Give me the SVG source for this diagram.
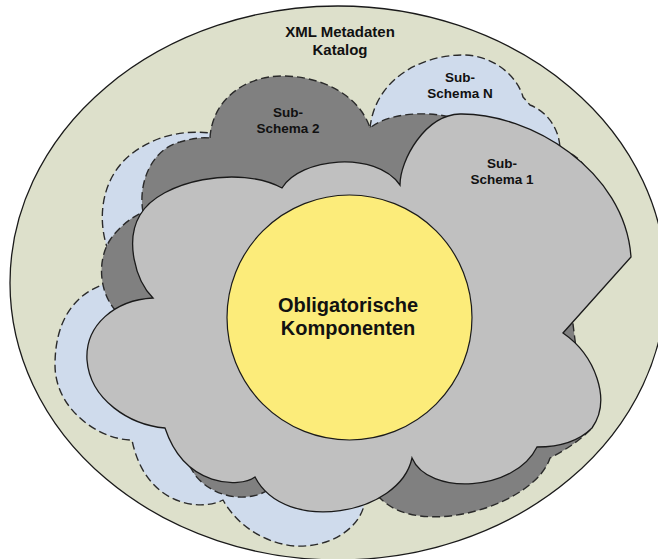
<svg xmlns="http://www.w3.org/2000/svg" width="658" height="559" viewBox="0 0 658 559">
<style>
.lbl{font-family:"Liberation Sans",Arial,sans-serif;font-weight:bold;fill:#111;text-anchor:middle}
.dash{stroke:#2a2a2a;stroke-width:1.4;stroke-dasharray:8 4;stroke-linejoin:round}
.solid{stroke:#1a1a1a;stroke-width:1.3;stroke-linejoin:miter}
</style>
<rect width="658" height="559" fill="#ffffff"/>
<g id="katalog">
<ellipse cx="338" cy="283" rx="328" ry="277" fill="#dde0cb" stroke="#1a1a1a" stroke-width="1.3"/>
<text class="lbl" x="340" y="37" font-size="15">XML Metadaten</text>
<text class="lbl" x="340" y="55" font-size="15">Katalog</text>
</g>
<g id="subschema-n">
<path class="dash" fill="#cfdbec" d="M370,128 C375,80 420,55 463,55 C495,55 518,78 523,97 L530,105 C548,112 560,130 560,150 C572,152 582,160 588,172 L560,300 L450,420 L360,480 L365,500 C362,528 330,548 295,546 C270,544 240,530 223,500 C200,512 145,505 132,440 C100,440 55,410 55,365 C55,320 75,295 102,285 L112,270 L107,247 C98,220 100,180 130,155 C155,135 185,130 210,133 L300,110 Z"/>
<text class="lbl" x="460" y="82" font-size="13.5">Sub-</text>
<text class="lbl" x="460" y="98" font-size="13.5">Schema N</text>
</g>
<g id="subschema-2">
<path class="dash" fill="#808080" d="M210,138 C212,100 245,75 285,76 C325,77 360,97 370,128 C385,115 420,110 450,117 L470,135 L560,220 L585,420 L590,430 C578,442 565,450 550,458 C535,505 420,540 380,498 L320,480 L268,490 C250,502 215,500 195,475 L150,400 L117,312 C100,295 96,262 110,240 C118,228 130,218 143,212 C138,185 150,150 180,142 C190,139 200,137 210,138 Z"/>
<text class="lbl" x="288" y="117" font-size="13.5">Sub-</text>
<text class="lbl" x="288" y="133" font-size="13.5">Schema 2</text>
</g>
<g id="subschema-1">
<path class="solid" fill="#c0c0c0" d="M400,185 C400,160 425,115 460,114 C530,113 625,170 631,257 L563,333 C595,355 612,400 592,428 C578,442 560,447 537,447 C515,492 428,496 412,458 C400,515 285,535 255,477 C240,488 185,488 165,428 C130,425 90,400 87,360 C85,325 115,300 153,298 C135,280 125,240 140,215 C160,180 240,165 282,188 C300,158 375,150 400,185 Z"/>
<text class="lbl" x="502" y="168" font-size="13.5">Sub-</text>
<text class="lbl" x="502" y="184" font-size="13.5">Schema 1</text>
</g>
<g id="obligatorisch">
<circle cx="349.5" cy="317.5" r="122.5" fill="#fcec7a" stroke="#1a1a1a" stroke-width="1.2"/>
<text class="lbl" x="348" y="312" font-size="20">Obligatorische</text>
<text class="lbl" x="348" y="335" font-size="20">Komponenten</text>
</g>
<g id="connectors"/>
</svg>
